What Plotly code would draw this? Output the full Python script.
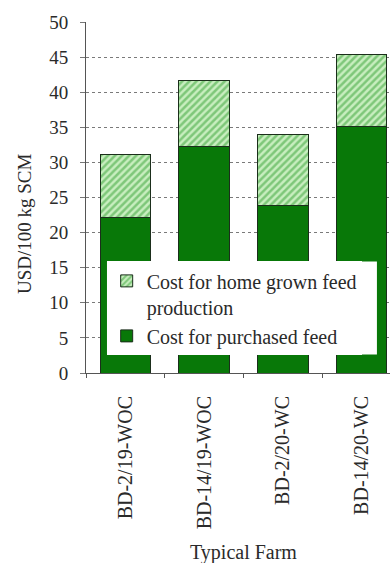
import plotly.graph_objects as go

# Cost structure of typical farms (USD per 100 kg SCM)
farms = ["BD-2/19-WOC", "BD-14/19-WOC", "BD-2/20-WC", "BD-14/20-WC"]
purchased_feed = [22.2, 32.3, 23.9, 35.1]
home_grown_feed = [8.9, 9.4, 10.1, 10.2]
y_ticks = [0, 5, 10, 15, 20, 25, 30, 35, 40, 45, 50]

SERIF = "Liberation Serif, Times New Roman, serif"
TEXT = "#2a2a2a"
DARK_GREEN = "#087808"

fig = go.Figure()

fig.add_trace(go.Bar(
    x=farms, y=purchased_feed,
    name="Cost for purchased feed",
    width=0.64,
    marker=dict(color=DARK_GREEN, line=dict(color="#1b2e1b", width=1)),
))

fig.add_trace(go.Bar(
    x=farms, y=home_grown_feed,
    name="Cost for home grown feed<br>production",
    width=0.64,
    marker=dict(
        color="#c8eebf",
        line=dict(color="#1b2e1b", width=1),
        pattern=dict(shape="/", fgcolor="#33a033", bgcolor="#c8eebf",
                     size=5, solidity=0.5),
    ),
))

fig.update_layout(
    width=390, height=563,
    margin=dict(l=86, r=0, t=22, b=190),
    barmode="stack",
    paper_bgcolor="white",
    plot_bgcolor="white",
    font=dict(family=SERIF, size=20, color=TEXT),
    showlegend=True,
    legend=dict(
        x=0.068, y=0.318, xanchor="left", yanchor="top",
        bgcolor="white", borderwidth=0,
        traceorder="reversed",
        valign="top",
        font=dict(family=SERIF, size=20, color=TEXT),
        itemwidth=30,
        tracegroupgap=0,
    ),
    # wide white backdrop behind the legend box
    shapes=[
        dict(type="rect", xref="paper", yref="paper",
             x0=0.069, x1=0.957, y0=0.053, y1=0.318,
             fillcolor="white", line=dict(width=0), layer="above"),
    ],
    xaxis=dict(
        range=[-0.5, 3.36],
        showline=True, linecolor="#555", linewidth=1,
        ticks="outside", tickson="boundaries", ticklen=4, tickcolor="#555",
        tickangle=-90,
        ticklabelstandoff=14,
        tickfont=dict(family=SERIF, size=20, color=TEXT),
        showgrid=False,
    ),
    yaxis=dict(
        range=[0, 50],
        tickvals=y_ticks,
        showline=True, linecolor="#555", linewidth=1,
        ticks="outside", ticklen=5, tickcolor="#777",
        ticklabelstandoff=8,
        showgrid=True, gridcolor="#7a7a7a", griddash="dot", gridwidth=1,
        zeroline=False,
        tickfont=dict(family=SERIF, size=19, color=TEXT),
    ),
    annotations=[
        dict(text="USD/100 kg SCM", textangle=-90,
             xref="paper", yref="paper",
             x=-0.2, y=0.425, xanchor="center", yanchor="middle",
             showarrow=False,
             font=dict(family=SERIF, size=19, color=TEXT)),
        dict(text="Typical Farm",
             xref="x", yref="paper",
             x=1.5, y=-0.51, xanchor="center", yanchor="middle",
             showarrow=False,
             font=dict(family=SERIF, size=20, color=TEXT)),
    ],
)

fig.write_html("out.html")
